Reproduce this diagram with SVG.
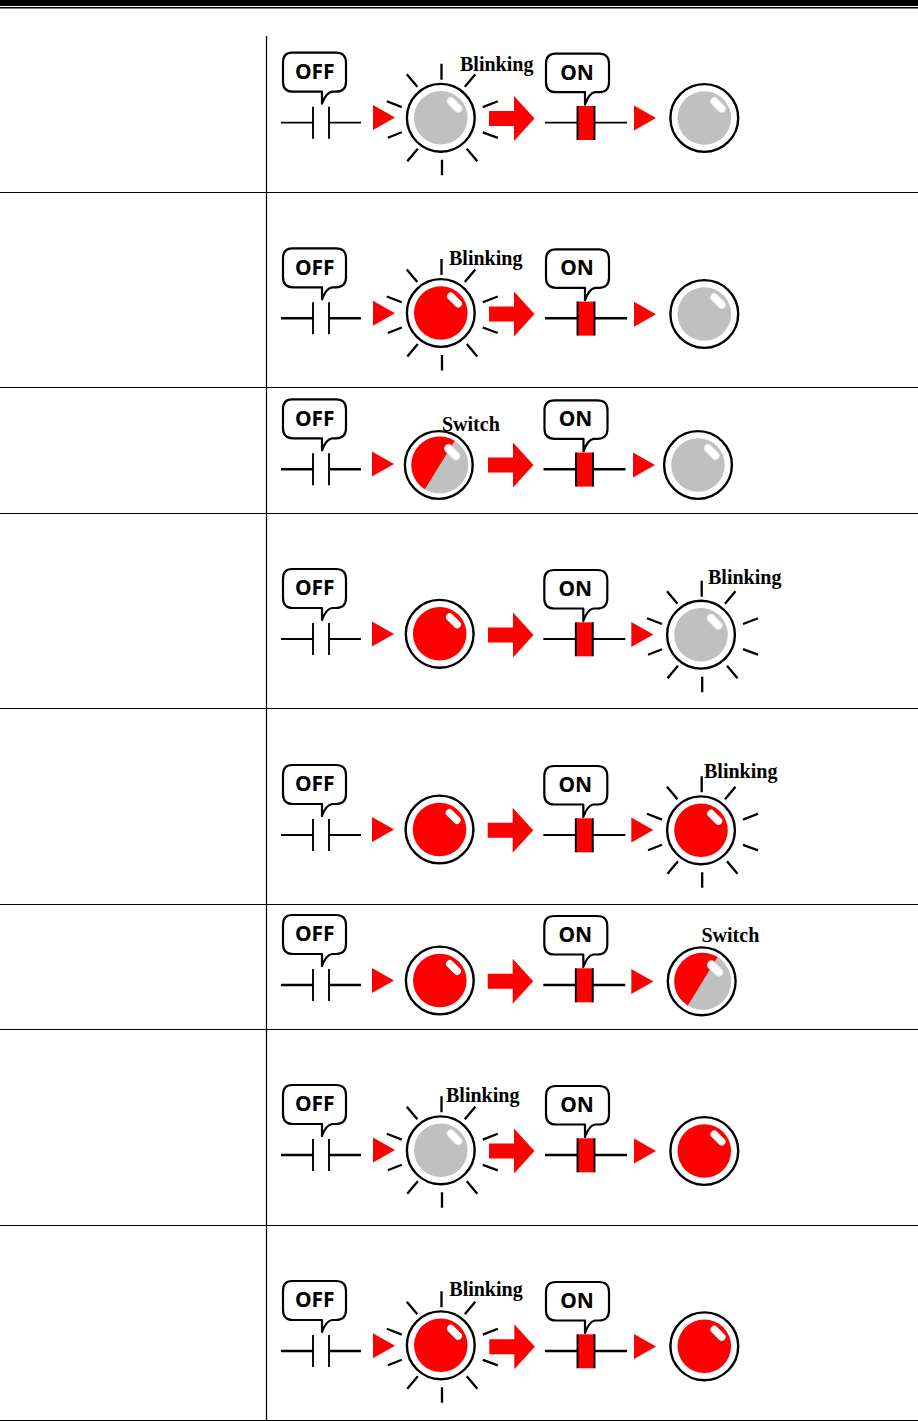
<svg xmlns="http://www.w3.org/2000/svg" width="918" height="1421" viewBox="0 0 918 1421">
<style>
.rule{stroke:#000;stroke-width:1.2;fill:none}
.lead{stroke:#000;fill:none}
.thin{stroke-width:1.8}
.thick{stroke-width:2.5}
.plate{stroke:#000;stroke-width:1.9;fill:none}
.ray{stroke:#000;stroke-width:2.3;fill:none}
.bubble{fill:#fff;stroke:#000;stroke-width:2.200;stroke-linejoin:round}
.tag{font-family:"Noto Sans","Open Sans",sans-serif;font-weight:700;font-size:21px;text-anchor:middle;fill:#000}
.note{font-family:"Liberation Serif","Times New Roman",serif;font-weight:700;font-size:20px;fill:#000}
.red{fill:#f00}
.gray{fill:#c0c0c0}
</style>
<defs>
<g id="off-contact">
<path class="bubble" d="M-29,-70H15Q25,-70 25,-60V-41Q25,-31 15,-31H11Q5,-30 1,-19V-31H-28Q-38,-31 -38,-41V-60Q-38,-70 -29,-70Z"/>
<path class="lead" d="M-40,0H-8M8,0H40"/>
<path class="plate" d="M-8,-16V16M8,-16V16"/>
</g>
<g id="on-contact">
<path class="bubble" d="M-30,-69H13Q23,-69 23,-59V-40.500Q23,-30.500 13,-30.500H9Q3,-29.500 -1,-18V-30.500H-30Q-40,-30.500 -40,-40.500V-59Q-40,-69 -30,-69Z"/>
<path class="lead" d="M-41,0H41"/>
<rect class="red" x="-8.500" y="-16.700" width="17" height="34"/>
<path class="plate" d="M-8.500,-16.700V17.300M8.500,-16.700V17.300"/>
</g>
<circle id="lamp-frame" r="33.900" fill="#fff" stroke="#000" stroke-width="2.400"/>
<rect id="shine" x="-9" y="-3.800" width="18" height="7.600" rx="3.800" fill="#fff"/>
<g id="lamp-gray"><use href="#lamp-frame"/><circle r="26.800" class="gray"/><use href="#shine" transform="translate(13.700,-13) rotate(45)" stroke="#e6e6e6" stroke-width="1"/></g>
<g id="lamp-red"><use href="#lamp-frame"/><circle r="26.800" class="red"/><use href="#shine" transform="translate(13.700,-13) rotate(45)"/></g>
<g id="lamp-switch"><use href="#lamp-frame"/><g transform="translate(1,0)"><circle r="28.500" class="gray"/><path class="red" d="M14.900,-24.300A28.500,28.500 0 0 0 -14.900,24.300Z"/></g><use href="#shine" transform="translate(13.500,-12.700) rotate(45)" stroke="#e6e6e6" stroke-width="1.500"/></g>
<path id="rays" class="ray" d="M0.700,-54V-38M1.200,42V57.500M-34,-43.500L-23.500,-31M34.500,-43.500L24,-31M-33.500,43.500L-23,31M36.500,43.500L26,31M-54,-16.500L-39,-10.700M57,-16.500L42,-10.700M-53,20L-39,14.500M57,20L42,14.500"/>
<path id="tri" class="red" d="M0,-12.500L22,0L0,12.500Z"/>
<path id="block" class="red" d="M0,-7.500H25V-22.500L45.500,0L25,22.500V7.500H0Z"/>
</defs>

<g id="table">
<rect x="0" y="0" width="918" height="6" fill="#000"/>
<rect x="0" y="7" width="918" height="1.500" fill="#000"/>
<path class="rule" d="M0,192.500H918M0,387.500H918M0,513.500H918M0,708.500H918M0,904.500H918M0,1029.500H918M0,1225.500H918M0,1420.500H918M266.500,36V1420"/>
</g>

<g id="connectors">
<use href="#tri" x="373" y="117.500"/><use href="#block" x="489" y="118.500"/><use href="#tri" x="634" y="118"/>
<use href="#tri" x="373" y="313.200"/><use href="#block" x="489" y="314"/><use href="#tri" x="634" y="314.200"/>
<use href="#tri" x="372" y="464"/><use href="#block" x="488" y="465"/><use href="#tri" x="633" y="465"/>
<use href="#tri" x="372" y="634"/><use href="#block" x="488" y="635"/><use href="#tri" x="631.300" y="634.500"/>
<use href="#tri" x="372" y="829.500"/><use href="#block" x="487.700" y="830.300"/><use href="#tri" x="631.300" y="830"/>
<use href="#tri" x="372" y="980.500"/><use href="#block" x="487.700" y="981.300"/><use href="#tri" x="631.300" y="981.500"/>
<use href="#tri" x="373" y="1150"/><use href="#block" x="489" y="1151"/><use href="#tri" x="634" y="1151"/>
<use href="#tri" x="373" y="1345.800"/><use href="#block" x="489.300" y="1346.700"/><use href="#tri" x="634" y="1346.500"/>
</g>

<g id="row1-off" class="thin" transform="translate(321,122.700)"><use href="#off-contact"/><text class="tag" x="-6.300" y="-43.700">OFF</text></g>
<g id="row1-lamp1" transform="translate(440.800,117.800)"><use href="#rays"/><use href="#lamp-gray"/></g>
<text class="note" x="460" y="71">Blinking</text>
<g id="row1-on" class="thin" transform="translate(586,122.700)"><use href="#on-contact"/><text class="tag" x="-9" y="-43">ON</text></g>
<g id="row1-lamp2" transform="translate(704.300,118)"><use href="#lamp-gray"/></g>

<g id="row2-off" class="thick" transform="translate(321,318.300)"><use href="#off-contact"/><text class="tag" x="-6.300" y="-43.700">OFF</text></g>
<g id="row2-lamp1" transform="translate(440.800,313)"><use href="#rays"/><use href="#lamp-red"/></g>
<text class="note" x="449" y="264.500">Blinking</text>
<g id="row2-on" class="thick" transform="translate(586,318.300)"><use href="#on-contact"/><text class="tag" x="-9" y="-43">ON</text></g>
<g id="row2-lamp2" transform="translate(704.300,314)"><use href="#lamp-gray"/></g>

<g id="row3-off" class="thick" transform="translate(321,469.300)"><use href="#off-contact"/><text class="tag" x="-6.300" y="-43.700">OFF</text></g>
<g id="row3-lamp1" transform="translate(438.800,465)"><use href="#lamp-switch"/></g>
<text class="note" x="442" y="431">Switch</text>
<g id="row3-on" class="thick" transform="translate(584.500,469.300)"><use href="#on-contact"/><text class="tag" x="-9" y="-43">ON</text></g>
<g id="row3-lamp2" transform="translate(698,465)"><use href="#lamp-gray"/></g>

<g id="row4-off" class="thin" transform="translate(321,639)"><use href="#off-contact"/><text class="tag" x="-6.300" y="-43.700">OFF</text></g>
<g id="row4-lamp1" transform="translate(439.700,633.800)"><use href="#lamp-red"/></g>
<g id="row4-on" class="thin" transform="translate(584.300,639)"><use href="#on-contact"/><text class="tag" x="-9" y="-43">ON</text></g>
<g id="row4-lamp2" transform="translate(701,634.700)"><use href="#rays"/><use href="#lamp-gray"/></g>
<text class="note" x="708" y="584">Blinking</text>

<g id="row5-off" class="thin" transform="translate(321,835)"><use href="#off-contact"/><text class="tag" x="-6.300" y="-43.700">OFF</text></g>
<g id="row5-lamp1" transform="translate(439.500,829.500)"><use href="#lamp-red"/></g>
<g id="row5-on" class="thin" transform="translate(584.300,835)"><use href="#on-contact"/><text class="tag" x="-9" y="-43">ON</text></g>
<g id="row5-lamp2" transform="translate(701,830.300)"><use href="#rays"/><use href="#lamp-red"/></g>
<text class="note" x="704" y="778">Blinking</text>

<g id="row6-off" class="thick" transform="translate(321,985)"><use href="#off-contact"/><text class="tag" x="-6.300" y="-43.700">OFF</text></g>
<g id="row6-lamp1" transform="translate(439.800,980.500)"><use href="#lamp-red"/></g>
<g id="row6-on" class="thick" transform="translate(584.300,985)"><use href="#on-contact"/><text class="tag" x="-9" y="-43">ON</text></g>
<g id="row6-lamp2" transform="translate(701.700,981.300)"><use href="#lamp-switch"/></g>
<text class="note" x="701.500" y="941.700">Switch</text>

<g id="row7-off" class="thick" transform="translate(321,1155)"><use href="#off-contact"/><text class="tag" x="-6.300" y="-43.700">OFF</text></g>
<g id="row7-lamp1" transform="translate(440.800,1150.300)"><use href="#rays"/><use href="#lamp-gray"/></g>
<text class="note" x="446" y="1101.700">Blinking</text>
<g id="row7-on" class="thick" transform="translate(586,1155)"><use href="#on-contact"/><text class="tag" x="-9" y="-43">ON</text></g>
<g id="row7-lamp2" transform="translate(704.300,1151)"><use href="#lamp-red"/></g>

<g id="row8-off" class="thick" transform="translate(321,1351)"><use href="#off-contact"/><text class="tag" x="-6.300" y="-43.700">OFF</text></g>
<g id="row8-lamp1" transform="translate(440.800,1345.300)"><use href="#rays"/><use href="#lamp-red"/></g>
<text class="note" x="449.300" y="1295.700">Blinking</text>
<g id="row8-on" class="thick" transform="translate(586,1351)"><use href="#on-contact"/><text class="tag" x="-9" y="-43">ON</text></g>
<g id="row8-lamp2" transform="translate(704.300,1346.300)"><use href="#lamp-red"/></g>
</svg>
